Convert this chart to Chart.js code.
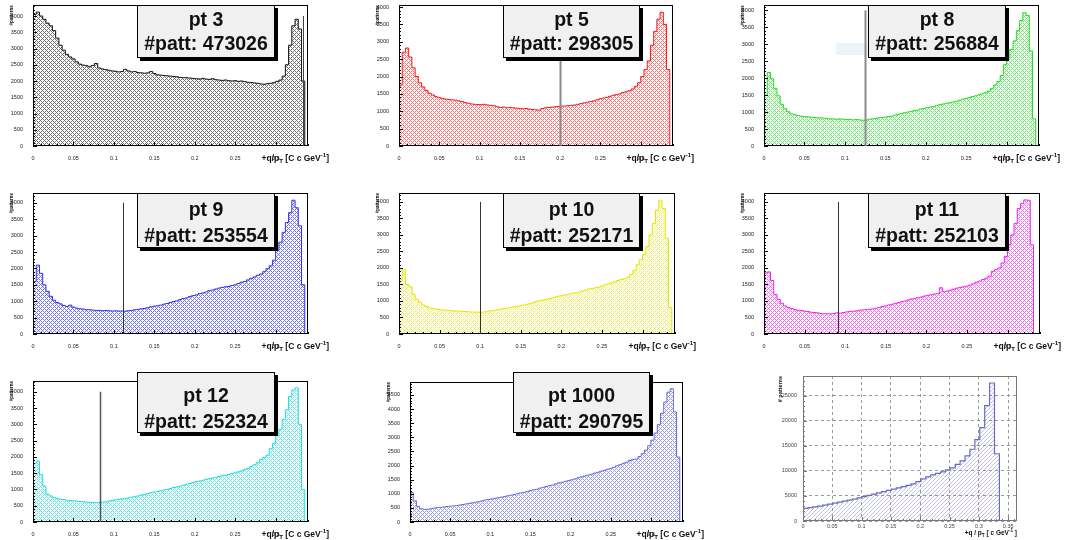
<!DOCTYPE html>
<html>
<head>
<meta charset="utf-8">
<title>q/pT pattern distributions</title>
<script src="https://cdn.jsdelivr.net/npm/chart.js@4.4.1/dist/chart.umd.min.js"></script>
<style>
  html, body { margin: 0; padding: 0; background: #fff; }
  #page { position: relative; width: 1067px; height: 540px; overflow: hidden; }
  #page canvas { position: absolute; }
</style>
</head>
<body>
<div id="page"></div>
<script>
/* ============================================================
   Pattern-bank q/pT distributions, one histogram per pt bin.
   Each panel is a stepped Chart.js line filled to the origin,
   with ROOT-style frame, inner ticks and a stats box drawn by
   a small plugin.
   ============================================================ */

/* ── Fine binning: 0 … 0.34, bin width 0.004 ── */
const BIN_W = 0.004;
const X_MAX = 0.34;

const PT3 = [
  4050, 4120, 4000, 3900, 3780, 3700, 3550, 3320, 3100, 2950,
  2820, 2740, 2680, 2590, 2520, 2490, 2470, 2440, 2480, 2540,
  2400, 2370, 2350, 2330, 2310, 2300, 2280, 2290, 2360, 2310,
  2280, 2290, 2260, 2250, 2240, 2250, 2290, 2230, 2190, 2180,
  2170, 2160, 2150, 2140, 2130, 2110, 2100, 2100, 2090, 2080,
  2070, 2060, 2080, 2060, 2050, 2070, 2040, 2030, 2020, 2030,
  2010, 2000, 2010, 1990, 2000, 1980, 1960, 1950, 1940, 1930,
  1910, 1900, 1920, 1930, 1950, 1990, 2030, 2150, 2500, 3100,
  3700, 3900, 3600, 2000, 0,
];
const PT5 = [
  1750, 2700, 2820, 2560, 2250, 2000, 1820, 1700, 1600, 1520,
  1470, 1420, 1390, 1370, 1350, 1340, 1330, 1320, 1300, 1280,
  1250, 1230, 1210, 1200, 1195, 1190, 1200, 1180, 1170, 1160,
  1130, 1110, 1120, 1100, 1110, 1100, 1090, 1080, 1070, 1080,
  1060, 1050, 1040, 1030, 1080, 1100, 1110, 1120, 1130, 1140,
  1150, 1150, 1160, 1170, 1180, 1200, 1220, 1240, 1260, 1280,
  1300, 1330, 1360, 1380, 1400, 1430, 1460, 1480, 1500, 1540,
  1560, 1590, 1640, 1720, 1820, 2000, 2200, 2450, 2900, 3300,
  3650, 3850, 3500, 2200, 0,
];
const PT8 = [
  1500, 2170, 1980, 1700, 1480, 1230, 1100, 1010, 950, 920,
  900, 880, 870, 860, 850, 840, 830, 830, 820, 810,
  800, 800, 790, 800, 790, 780, 780, 770, 780, 770,
  760, 760, 790, 800, 810, 830, 840, 850, 870, 880,
  910, 940, 960, 980, 1000, 1020, 1050, 1060, 1090, 1110,
  1130, 1150, 1170, 1200, 1220, 1240, 1260, 1280, 1300, 1320,
  1350, 1380, 1400, 1430, 1460, 1480, 1510, 1540, 1570, 1620,
  1700, 1800, 1900, 2080, 2400, 2600, 2850, 3100, 3400, 3700,
  3930, 3850, 2800, 800, 0,
];
const PT9 = [
  1600, 2100, 1850, 1500, 1300, 1150, 1030, 960, 920, 870,
  840, 880, 820, 790, 770, 760, 740, 740, 730, 720,
  720, 710, 715, 710, 700, 705, 700, 700, 695, 710,
  720, 740, 750, 770, 780, 800, 830, 850, 860, 880,
  910, 930, 960, 990, 1010, 1050, 1080, 1100, 1140, 1170,
  1190, 1230, 1250, 1280, 1320, 1340, 1370, 1400, 1420, 1440,
  1450, 1480, 1500, 1540, 1580, 1600, 1650, 1700, 1740, 1790,
  1830, 1900, 1990, 2080, 2250, 2550, 2800, 3100, 3400, 3700,
  4080, 3850, 3300, 1500, 0,
];
const PT10 = [
  1650, 1950, 1500, 1430, 1200, 1050, 960, 880, 830, 790,
  770, 760, 740, 730, 720, 710, 700, 700, 690, 680,
  680, 670, 665, 660, 660, 660, 670, 690, 710, 720,
  740, 750, 770, 790, 800, 820, 840, 860, 880, 900,
  930, 960, 990, 1010, 1030, 1050, 1070, 1100, 1130, 1150,
  1170, 1190, 1210, 1230, 1250, 1270, 1300, 1330, 1360, 1380,
  1400, 1420, 1450, 1490, 1520, 1550, 1580, 1620, 1650, 1680,
  1720, 1800, 1920, 2100, 2250, 2400, 2650, 3000, 3350, 3750,
  4050, 3800, 2900, 800, 0,
];
const PT11 = [
  1850, 1880, 1620, 1200, 1050, 930, 850, 800, 770, 740,
  720, 710, 690, 680, 660, 650, 640, 620, 615, 610,
  610, 620, 640, 630, 650, 670, 680, 690, 700, 720,
  730, 740, 750, 760, 780, 800, 830, 850, 880, 900,
  930, 950, 980, 1000, 1030, 1060, 1080, 1100, 1120, 1150,
  1170, 1190, 1210, 1220, 1400, 1280, 1300, 1330, 1360, 1390,
  1410, 1430, 1450, 1480, 1520, 1570, 1600, 1650, 1690, 1750,
  1900, 1950, 2000, 2150, 2350, 2700, 3000, 3350, 3800, 3950,
  4060, 4050, 2700, 0, 0,
];
const PT12 = [
  1800, 1870, 1450, 1100, 850, 800, 750, 720, 700, 690,
  670, 660, 650, 640, 630, 620, 610, 600, 600, 595,
  600, 610, 620, 640, 660, 680, 700, 710, 720, 740,
  760, 780, 800, 830, 850, 870, 900, 920, 940, 960,
  980, 1000, 1030, 1060, 1080, 1100, 1130, 1160, 1180, 1210,
  1240, 1260, 1280, 1310, 1330, 1350, 1370, 1400, 1420, 1440,
  1460, 1490, 1510, 1540, 1570, 1610, 1650, 1700, 1760, 1830,
  1920, 1980, 2050, 2250, 2420, 2650, 2850, 3150, 3450, 3850,
  4050, 4120, 3000, 1000, 0,
];
const PT1000 = [
  1050, 750, 550, 470, 450, 450, 470, 490, 510, 520,
  530, 550, 560, 570, 580, 600, 620, 640, 660, 680,
  700, 720, 750, 780, 800, 820, 840, 860, 880, 900,
  930, 950, 970, 1000, 1030, 1050, 1080, 1110, 1140, 1160,
  1200, 1230, 1260, 1290, 1310, 1350, 1390, 1410, 1440, 1470,
  1500, 1530, 1570, 1600, 1630, 1660, 1690, 1730, 1760, 1800,
  1830, 1870, 1900, 1940, 1990, 2030, 2080, 2120, 2180, 2220,
  2230, 2320, 2420, 2550, 2700, 2900, 3150, 3450, 3850, 4250,
  4600, 4720, 3900, 2300, 0,
];

/* ── Coarse binning for the summed bank: 40 bins over 0 … 0.335 ── */
const COARSE_BIN_W = 0.008375;
const PT_SUM = [
  2500, 2650, 2800, 2950, 3150, 3350, 3550, 3750, 3950, 4150,
  4350, 4600, 4850, 5100, 5350, 5600, 5850, 6100, 6350, 6600,
  6850, 7100, 7400, 7850, 8400, 8800, 9200, 9500, 9800, 10200,
  10600, 11300, 12000, 13000, 14300, 16200, 18600, 23000, 27500, 13400,
];

/* ── Tick values ── */
const X_TICKS       = [0, 0.05, 0.1, 0.15, 0.2, 0.25, 0.3];
const X_TICKS_SUM   = [0, 0.05, 0.1, 0.15, 0.2, 0.25, 0.3, 0.35];
const Y_TICKS_4000  = [0, 500, 1000, 1500, 2000, 2500, 3000, 3500, 4000];
const Y_TICKS_4500  = [0, 500, 1000, 1500, 2000, 2500, 3000, 3500, 4000, 4500];
const Y_TICKS_SUM   = [0, 5000, 10000, 15000, 20000, 25000];

/* ── Labels ── */
const PANEL_TITLES = ['pt 3', 'pt 5', 'pt 8', 'pt 9', 'pt 10', 'pt 11', 'pt 12', 'pt 1000'];
const PATT_COUNTS  = [473026, 298305, 256884, 253554, 252171, 252103, 252324, 290795];
const CUT_VALUES   = [0.3333, 0.2, 0.125, 0.1111, 0.1, 0.0909, 0.0833, null];
const CUT_HEIGHT   = 4000;

/* ── Shared styling ── */
const FONT_FAMILY = '"Liberation Sans", Arial, Helvetica, sans-serif';
const TICK_FONT   = { family: FONT_FAMILY, size: 5.5 };
const TICK_COLOR  = '#222';

const X_TITLE_FINE   = [['+q/p', ''], ['T', 'sub'], [' [C c GeV', ''], ['-1', 'sup'], [']', '']];
const X_TITLE_COARSE = [['+q / p', ''], ['T', 'sub'], [' [ c GeV', ''], ['-1', 'sup'], [' ]', '']];

/* Page layout: cell = canvas rect, frame = plot frame, both in page pixels */
const PANELS = [
  { values: PT3,    color: '#111111', fill: '#000000', cell: [0, 0, 358, 180],     frame: [33, 5, 308, 146],    yMax: 4330, box: [137, 5, 138, 53, 21, 45],    cutColor: '#444', cutWidth: 1 },
  { values: PT5,    color: '#ee1c1c', fill: '#ff0000', cell: [358, 0, 358, 180],   frame: [399, 5, 673, 146],   yMax: 4050, box: [503, 5, 137, 53, 21, 45],    cutColor: '#8a8a8a', cutWidth: 2 },
  { values: PT8,    color: '#22dd22', fill: '#00cc00', cell: [716, 0, 351, 180],   frame: [764, 5, 1039, 146],  yMax: 4150, box: [868, 5, 138, 53, 21, 45],    cutColor: '#8a8a8a', cutWidth: 2, ghost: [836, 43, 118, 12] },
  { values: PT9,    color: '#2e2eea', fill: '#0000dd', cell: [0, 180, 358, 182],   frame: [33, 193, 308, 334],  yMax: 4300, box: [137, 193, 138, 55, 23, 49],  cutColor: '#333', cutWidth: 1 },
  { values: PT10,   color: '#e6e600', fill: '#e0e000', cell: [358, 180, 358, 182], frame: [399, 193, 675, 334], yMax: 4270, box: [503, 193, 137, 55, 23, 49],  cutColor: '#333', cutWidth: 1 },
  { values: PT11,   color: '#ee22ee', fill: '#ee00ee', cell: [716, 180, 351, 182], frame: [764, 193, 1040, 334], yMax: 4270, box: [868, 193, 138, 55, 23, 49], cutColor: '#333', cutWidth: 1 },
  { values: PT12,   color: '#22dddd', fill: '#00cccc', cell: [0, 362, 358, 178],   frame: [33, 381, 308, 522],  yMax: 4330, box: [137, 372, 138, 61, 30, 56],  cutColor: '#555', cutWidth: 1.5 },
  { values: PT1000, color: '#6a6add', fill: '#5050cc', cell: [358, 362, 358, 178], frame: [410, 382, 683, 522], yMax: 4960, box: [513, 372, 137, 61, 30, 56], yTicks: Y_TICKS_4500 },
];

/* ── Fill tiles (ROOT-like hatch styles) ── */
function meshPattern(ctx, color, alpha) {
  const tile = document.createElement('canvas');
  tile.width = tile.height = 4;
  const g = tile.getContext('2d');
  g.fillStyle = color;
  g.globalAlpha = alpha;
  for (let y = 0; y < 4; y++)
    for (let x = 0; x < 4; x++)
      if ((x + y) % 4 === 0 || (x - y + 4) % 4 === 0) g.fillRect(x, y, 1, 1);
  return ctx.createPattern(tile, 'repeat');
}

function diagonalPattern(ctx, color, alpha) {
  const tile = document.createElement('canvas');
  tile.width = tile.height = 4;
  const g = tile.getContext('2d');
  g.fillStyle = color;
  g.globalAlpha = alpha;
  for (let y = 0; y < 4; y++)
    for (let x = 0; x < 4; x++)
      if ((x + y) % 4 === 3) g.fillRect(x, y, 1, 1);
  return ctx.createPattern(tile, 'repeat');
}

/* Bin contents -> step points at lower edges, closed at the last upper edge */
function histPoints(values, width) {
  const pts = values.map((v, i) => ({ x: i * width, y: v }));
  pts.push({ x: values.length * width, y: 0 });
  return pts;
}

/* Text with sub/superscript pieces, right-aligned at `right` */
function drawRich(ctx, parts, right, base, size) {
  const small = size * 0.72;
  const fontOf = s => `bold ${s}px ${FONT_FAMILY}`;
  const widths = parts.map(([t, m]) => { ctx.font = fontOf(m ? small : size); return ctx.measureText(t).width; });
  let x = right - widths.reduce((s, w) => s + w, 0);
  ctx.textAlign = 'left';
  ctx.textBaseline = 'alphabetic';
  parts.forEach(([t, m], i) => {
    ctx.font = fontOf(m ? small : size);
    const dy = m === 'sub' ? size * 0.28 : m === 'sup' ? -size * 0.42 : 0;
    ctx.fillText(t, x, base + dy);
    x += widths[i];
  });
}

/* ── Frame, inner ticks, cut line, stats box and axis titles ── */
const rootFrame = {
  id: 'rootFrame',
  afterDatasetsDraw(chart, args, o) {
    const { ctx, chartArea: a, scales: { x, y } } = chart;
    ctx.save();

    ctx.strokeStyle = o.frameColor;
    ctx.lineWidth = 1;
    ctx.beginPath();
    for (let k = 0; k * o.xMinor <= x.max + 1e-9; k++) {
      const px = Math.round(x.getPixelForValue(k * o.xMinor)) + 0.5;
      const len = k % o.xEvery === 0 ? 4 : 2;
      ctx.moveTo(px, a.bottom);
      ctx.lineTo(px, a.bottom - len);
    }
    for (let k = 0; k * o.yMinor <= y.max; k++) {
      const py = Math.round(y.getPixelForValue(k * o.yMinor)) + 0.5;
      const len = k % o.yEvery === 0 ? 4 : 2;
      ctx.moveTo(a.left, py);
      ctx.lineTo(a.left + len, py);
    }
    ctx.stroke();
    ctx.strokeRect(Math.round(a.left) + 0.5, Math.round(a.top) + 0.5,
                   Math.round(a.width) - 1, Math.round(a.height) - 1);

    if (o.ghost) {
      const [gx, gy, gw, gh] = o.ghost;
      ctx.fillStyle = 'rgba(214,228,246,0.45)';
      ctx.fillRect(gx, gy, gw, gh);
    }

    if (o.cut != null) {
      const px = Math.round(x.getPixelForValue(o.cut)) + 0.5;
      ctx.strokeStyle = o.cutColor;
      ctx.lineWidth = o.cutWidth;
      ctx.beginPath();
      ctx.moveTo(px, y.getPixelForValue(0));
      ctx.lineTo(px, y.getPixelForValue(CUT_HEIGHT));
      ctx.stroke();
    }

    if (o.box) {
      const [bx, by, bw, bh, b1, b2] = o.box;
      ctx.fillStyle = '#000';
      ctx.fillRect(bx + 3, by + 3, bw, bh);
      ctx.fillStyle = '#f0f0f0';
      ctx.fillRect(bx, by, bw, bh);
      ctx.strokeStyle = '#000';
      ctx.lineWidth = 1;
      ctx.strokeRect(bx + 0.5, by + 0.5, bw - 1, bh - 1);
      ctx.fillStyle = '#111';
      ctx.font = `bold 19.5px ${FONT_FAMILY}`;
      ctx.textAlign = 'center';
      ctx.textBaseline = 'alphabetic';
      ctx.fillText(o.lines[0], bx + bw / 2, by + b1);
      ctx.fillText(o.lines[1], bx + bw / 2, by + b2);
    }

    ctx.fillStyle = '#111';
    drawRich(ctx, o.xTitle, a.right + o.xTitleDx, a.bottom + o.xTitleDy, o.xTitleSize);

    ctx.save();
    ctx.translate(a.left + o.yTitleDx, a.top);
    ctx.rotate(-Math.PI / 2);
    ctx.font = `bold ${o.yTitleSize}px ${FONT_FAMILY}`;
    ctx.textAlign = 'right';
    ctx.textBaseline = 'middle';
    ctx.fillText(o.yTitle, 0, 0);
    ctx.restore();

    ctx.restore();
  },
};

/* ── Chart factory ── */
function mkPanel(id, p) {
  const [cx, cy, cw, ch] = p.cell;
  const [fl, ft, fr, fb] = p.frame;
  const canvas = document.createElement('canvas');
  canvas.id = id;
  canvas.width = cw;
  canvas.height = ch;
  canvas.style.left = cx + 'px';
  canvas.style.top = cy + 'px';
  canvas.style.width = cw + 'px';
  canvas.style.height = ch + 'px';
  document.getElementById('page').appendChild(canvas);
  const ctx = canvas.getContext('2d');

  const local = r => r && [r[0] - cx, r[1] - cy, ...r.slice(2)];
  const yAxisW = fl - cx;
  const xAxisH = cy + ch - fb;
  const xTicks = p.xTicks || X_TICKS;
  const yTicks = p.yTicks || Y_TICKS_4000;
  const gridOpts = p.grid ? { color: '#9a9a9a', drawTicks: false } : { display: false };
  const borderOpts = p.grid ? { display: false, dash: [3, 3] } : { display: false };

  return new Chart(canvas, {
    type: 'line',
    data: {
      datasets: [{
        data: histPoints(p.values, p.binW || BIN_W),
        stepped: true,
        borderColor: p.color,
        borderWidth: p.lineWidth || 1,
        backgroundColor: p.hatch ? diagonalPattern(ctx, p.fill, 0.55) : meshPattern(ctx, p.fill, 0.55),
        fill: 'origin',
        pointRadius: 0,
      }],
    },
    options: {
      responsive: false,
      animation: false,
      devicePixelRatio: 1,
      layout: { padding: { top: ft - cy, right: cx + cw - fr, left: 0, bottom: 0 } },
      plugins: {
        legend: { display: false },
        tooltip: { enabled: false },
        rootFrame: {
          frameColor: p.frameColor || '#000',
          xMinor: 0.01, xEvery: 5,
          yMinor: p.yMinor || 100, yEvery: 5,
          cut: p.cut, cutColor: p.cutColor, cutWidth: p.cutWidth,
          box: local(p.box), lines: p.lines, ghost: local(p.ghost),
          xTitle: p.xTitle || X_TITLE_FINE, xTitleDx: p.xTitleDx ?? 21, xTitleDy: p.xTitleDy ?? 15, xTitleSize: p.xTitleSize || 8.5,
          yTitle: p.yTitle || '#patterns', yTitleDx: p.yTitleDx ?? -21, yTitleSize: p.yTitleSize || 4.5,
        },
      },
      scales: {
        x: {
          type: 'linear', min: 0, max: p.xMax || X_MAX,
          afterFit: s => { s.height = xAxisH; },
          afterBuildTicks: s => { s.ticks = xTicks.map(v => ({ value: v })); },
          grid: gridOpts,
          border: borderOpts,
          ticks: {
            autoSkip: false, maxRotation: 0,
            padding: p.grid ? 2 : 1, font: TICK_FONT, color: p.tickColor || TICK_COLOR,
            callback: v => String(+v.toFixed(2)),
          },
        },
        y: {
          min: 0, max: p.yMax,
          afterFit: s => { s.width = yAxisW; },
          afterBuildTicks: s => { s.ticks = yTicks.map(v => ({ value: v })); },
          grid: gridOpts,
          border: borderOpts,
          ticks: {
            autoSkip: false,
            padding: p.grid ? 6 : 2, font: TICK_FONT, color: p.tickColor || TICK_COLOR,
            callback: v => String(v),
          },
        },
      },
    },
    plugins: [rootFrame],
  });
}

/* ── Build the eight pt panels ── */
PANELS.forEach((p, i) => {
  p.cut = CUT_VALUES[i];
  p.lines = [PANEL_TITLES[i], '#patt: ' + PATT_COUNTS[i]];
  mkPanel('pt-' + i, p);
});

/* ── Summed bank, coarse binning with dashed grid ── */
mkPanel('pt-sum', {
  values: PT_SUM, binW: COARSE_BIN_W,
  color: '#6a6ac8', fill: '#8c8cd2', hatch: true, lineWidth: 1.2,
  cell: [716, 362, 351, 178], frame: [803, 376, 1017, 521],
  xMax: 0.365, yMax: 28900, xTicks: X_TICKS_SUM, yTicks: Y_TICKS_SUM, yMinor: 1000,
  grid: true, frameColor: '#777', tickColor: '#444',
  xTitle: X_TITLE_COARSE, xTitleDx: 0, xTitleDy: 14, xTitleSize: 6.5,
  yTitle: '# patterns', yTitleDx: -23, yTitleSize: 5.5,
});
</script>
</body>
</html>
